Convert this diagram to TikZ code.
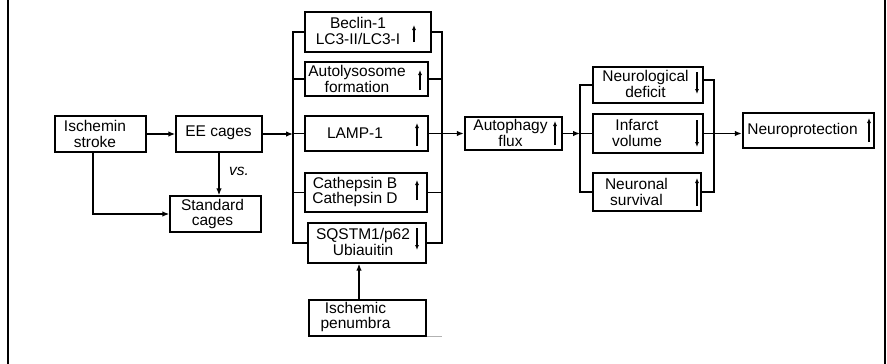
\documentclass[tikz,border=0pt]{standalone}
\usepackage{fontspec}
\setmainfont{Liberation Sans}
\usetikzlibrary{arrows.meta,calc}
\tikzset{
  box/.style={draw, line width=1.4pt, inner sep=0pt},
  thickbox/.style={draw, line width=2.4pt, inner sep=0pt},
  txt/.style={inner sep=0pt, align=center, font=\fontsize{15.5}{15.5}\selectfont},
  conn/.style={line width=1.2pt},
  arr/.style={line width=1.3pt, -{Latex[length=7pt,width=5.5pt]}},
  boldarr/.style={line width=2pt, -{Latex[length=7pt,width=5.5pt]}},
  mini/.style={line width=1.3pt, -{Latex[length=5pt,width=4pt]}},
}
\begin{document}
\begin{tikzpicture}[x=1pt,y=-1pt]
\useasboundingbox (0,0) rectangle (887,364);
% outer border lines
\draw[line width=2pt] (8,0) -- (8,364);
\draw[line width=2pt] (885,0) -- (885,364);

% boxes
\node[box, minimum width=91pt, minimum height=36pt] (isch) at (100.5,134) {};
\node[txt] (ischt) at (95,134) {Ischemin\\stroke};
\node[box, minimum width=86pt, minimum height=36pt] (ee) at (219,134) {};
\node[txt] (eet) at (218.5,133) {EE cages};
\node[box, minimum width=91pt, minimum height=36pt] (std) at (215.5,214) {};
\node[txt] (stdt) at (212.5,214) {Standard\\cages};
\node[txt, font=\fontsize{15.5}{15.5}\selectfont\itshape] (vs) at (239,171) {vs.};

\node[box, minimum width=126pt, minimum height=40pt] (bec) at (368,32) {};
\node[txt] (bect) at (358,31) {Beclin-1\\LC3-II/LC3-I};
\node[box, minimum width=123pt, minimum height=34pt] (auto) at (366.5,79) {};
\node[txt] (autot) at (357,79) {Autolysosome\\formation};
\node[box, minimum width=123pt, minimum height=35pt] (lamp) at (366.5,133.5) {};
\node[txt] (lampt) at (355,133.5) {LAMP-1};
\node[box, minimum width=122pt, minimum height=39pt] (cat) at (366,192.5) {};
\node[txt] (catt) at (355,192) {Cathepsin B\\Cathepsin D};
\node[box, minimum width=118pt, minimum height=40pt] (sq) at (367,243) {};
\node[txt] (sqt) at (363,242) {SQSTM1/p62\\Ubiauitin};
\node[box, minimum width=117pt, minimum height=36pt] (pen) at (367.5,318) {};
\node[txt] (pent) at (355.5,317) {Ischemic\\penumbra};

\node[thickbox, minimum width=97pt, minimum height=33pt] (flux) at (513.5,133.5) {};
\node[txt] (fluxt) at (510.5,133) {Autophagy\\flux};

\node[box, minimum width=110pt, minimum height=36pt] (neu) at (648,85) {};
\node[txt] (neut) at (645.5,84) {Neurological\\deficit};
\node[box, minimum width=110pt, minimum height=39pt] (inf) at (648,133.5) {};
\node[txt] (inft) at (637,133) {Infarct\\volume};
\node[box, minimum width=108pt, minimum height=38pt] (sur) at (647,192) {};
\node[txt] (surt) at (636.5,192) {Neuronal\\survival};

\node[thickbox, minimum width=131pt, minimum height=35pt] (np) at (808.5,130.5) {};
\node[txt] (npt) at (802.5,130) {Neuroprotection};

% bus coordinates
\coordinate (b1l) at (293,0);
\coordinate (b1r) at (442,0);
\coordinate (b2l) at (580,0);
\coordinate (b2r) at (714,0);

% left part
\draw[boldarr] (isch.east) -- (ee.west);
\coordinate (ia) at ($(isch.south)+(-7.5,0)$);
\draw[arr] (ia) |- (std.west);
\draw[arr] (ee.south) -- (ee.south |- std.north);
\draw[arr] (ee.east) -- (ee.east -| b1l);

% left bus 1
\draw[conn] (bec.west) -- (bec.west -| b1l) -- (sq.west -| b1l) -- (sq.west);
\draw[conn] (auto.west) -- (auto.west -| b1l);
\draw[conn] (lamp.west) -- (lamp.west -| b1l);
\draw[conn] (cat.west) -- (cat.west -| b1l);
% right bus 1
\draw[conn] (bec.east) -- (bec.east -| b1r) -- (sq.east -| b1r) -- (sq.east);
\draw[conn] (auto.east) -- (auto.east -| b1r);
\draw[conn] (cat.east) -- (cat.east -| b1r);
\draw[arr] (lamp.east) -- (flux.west);

% penumbra
\coordinate (pa) at ($(pen.north)+(-8.5,0)$);
\draw[arr] (pa) -- (pa |- sq.south);
\draw[gray!60, line width=1pt] (pen.south east) -- ++(15,0);

% bus 2
\draw[arr] (flux.east) -- (flux.east -| b2l);
\draw[conn] (neu.west) -- (neu.west -| b2l) -- (sur.west -| b2l) -- (sur.west);
\draw[conn] (inf.west) -- (inf.west -| b2l);
\draw[conn] ($(neu.east)+(0,-5)$) -- ($(neu.east -| b2r)+(0,-5)$) -- (sur.east -| b2r) -- (sur.east);
\draw[arr] (inf.east) -- (inf.east -| np.west);

% small in-box arrows
\draw[mini] (414,42) -- (414,25);
\draw[mini] (420,90) -- (420,70);
\draw[mini] (417,146) -- (417,123);
\draw[mini] (555,145) -- (555,121);
\draw[mini] (417,200) -- (417,180);
\draw[mini] (417,228) -- (417,250);
\draw[mini] (697,72) -- (697,94);
\draw[mini] (697,120) -- (697,147);
\draw[mini] (697,206) -- (697,178);
\draw[mini] (869,142) -- (869,118);
\end{tikzpicture}
\end{document}
